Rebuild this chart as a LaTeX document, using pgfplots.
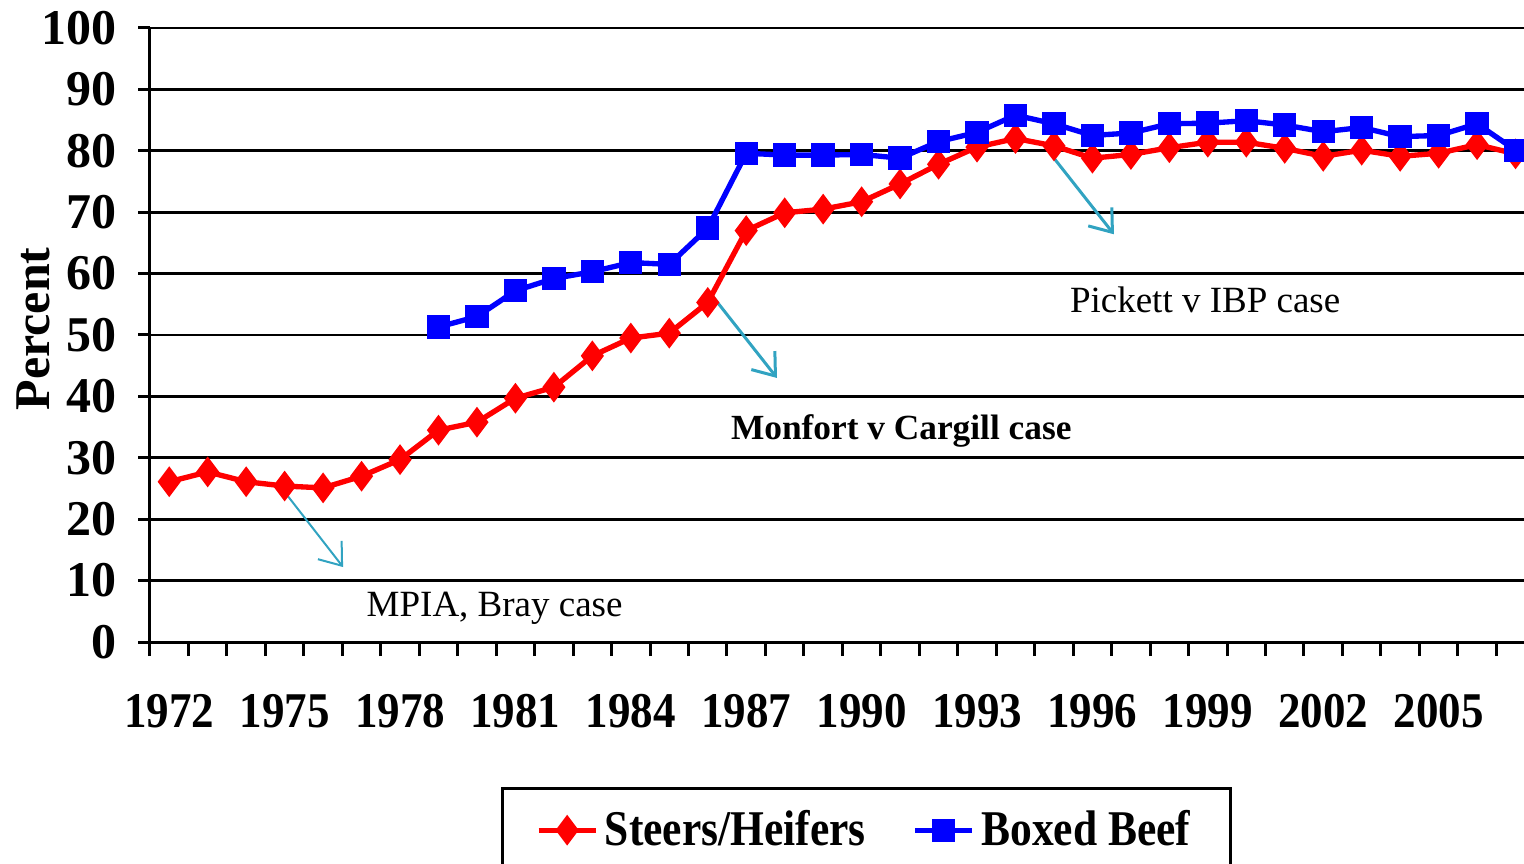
\documentclass[border=0pt]{standalone}
\usepackage{pgfplots}
\pgfplotsset{compat=1.18}
\usepackage{fontspec}
\setmainfont{Liberation Serif}
\newfontfamily\cond{Liberation Serif}[FakeStretch=0.9]
\newfontfamily\condl{Liberation Serif}[FakeStretch=0.87]
\usetikzlibrary{arrows.meta}
\definecolor{arrowcyan}{RGB}{49,163,193}

\begin{document}
\begin{tikzpicture}
\useasboundingbox (-45pt,-66.6pt) rectangle (412.2pt,192.6pt);
\begin{axis}[
    at={(0,0)}, anchor=south west,
    scale only axis, width=412.2pt, height=184.2pt,
    xmin=1971.5, xmax=2007.22, ymin=0, ymax=100,
    clip=false,
    axis x line*=bottom, axis y line*=left,
    axis line style={-, line width=0.9pt},
    xtick={1972,1975,...,2005},
    minor xtick={1971.5,1972.5,...,2007.5},
    ytick={0,10,...,100},
    tick align=outside,
    major tick length=3.6pt, minor tick length=4.2pt,
    major x tick style={draw=none},
    minor x tick style={line width=0.9pt, black},
    y tick style={line width=0.9pt, black},
    ymajorgrids, grid style={black, line width=0.8pt},
    /pgf/number format/1000 sep={},
    /pgf/number format/assume math mode=true,
    yticklabel style={font=\bfseries\fontsize{15}{18}\selectfont, xshift=-3pt},
    xticklabel style={font=\cond\bfseries\fontsize{15}{18}\selectfont, yshift=-8.5pt},
    ylabel={Percent},
    ylabel style={at={(axis description cs:-0.085,0.51)}, anchor=center, rotate=0,
        font=\bfseries\fontsize{15}{18}\selectfont},
    legend columns=2,
    legend style={at={(axis description cs:0.5215,-0.236)}, anchor=north,
        draw=black, line width=0.9pt, inner xsep=10pt, inner ysep=4.5pt,
        font=\condl\bfseries\fontsize{15}{18}\selectfont,
        /tikz/every even column/.append style={column sep=12pt}},
]
% Steers/Heifers, percent
\addplot[color=red, line width=1.6pt, mark=diamond*, mark size=3.3pt, mark options={solid}]
    coordinates {
    (1972,26.1)(1973,27.7)(1974,26.1)(1975,25.4)(1976,25.1)(1977,27.0)
    (1978,29.7)(1979,34.5)(1980,35.8)(1981,39.7)(1982,41.5)(1983,46.6)
    (1984,49.5)(1985,50.3)(1986,55.3)(1987,67.0)(1988,69.9)(1989,70.5)
    (1990,71.7)(1991,74.6)(1992,77.8)(1993,80.6)(1994,82.0)(1995,80.8)
    (1996,78.8)(1997,79.4)(1998,80.5)(1999,81.4)(2000,81.4)(2001,80.4)
    (2002,79.1)(2003,80.1)(2004,79.1)(2005,79.6)(2006,81.0)(2007,79.5)
    };
\addlegendentry{Steers/Heifers}
% Boxed Beef, percent
\addplot[color=blue, line width=1.6pt, mark=square*, mark size=2.7pt, mark options={solid}]
    coordinates {
    (1979,51.3)(1980,53.0)(1981,57.2)(1982,59.2)(1983,60.3)(1984,61.8)
    (1985,61.5)(1986,67.4)(1987,79.6)(1988,79.3)(1989,79.3)(1990,79.4)
    (1991,78.8)(1992,81.5)(1993,83.0)(1994,85.8)(1995,84.4)(1996,82.5)
    (1997,82.9)(1998,84.4)(1999,84.5)(2000,84.9)(2001,84.2)(2002,83.1)
    (2003,83.8)(2004,82.3)(2005,82.5)(2006,84.4)(2007,80.1)
    };
\addlegendentry{Boxed Beef}

\draw[arrowcyan, line width=0.6pt, -{Straight Barb[length=6pt,width=9pt]}]
    (axis cs:1974.96,24.76) -- (axis cs:1976.52,12.2);
\draw[arrowcyan, line width=0.9pt, -{Straight Barb[length=6pt,width=9pt]}]
    (axis cs:1986.14,56.2) -- (axis cs:1987.80,43.0);
\draw[arrowcyan, line width=0.9pt, -{Straight Barb[length=6pt,width=9pt]}]
    (axis cs:1994.90,79.6) -- (axis cs:1996.56,66.4);

\node[anchor=base, inner sep=0pt, font=\fontsize{11.1}{13}\selectfont]
    at (axis cs:1980.46,4.2) {MPIA, Bray case};
\node[anchor=base, inner sep=0pt, font=\bfseries\fontsize{10.6}{13}\selectfont]
    at (axis cs:1991.03,32.9) {Monfort v Cargill case};
\node[anchor=base, inner sep=0pt, font=\fontsize{11.1}{13}\selectfont]
    at (axis cs:1998.93,53.6) {Pickett v IBP case};
\end{axis}
\end{tikzpicture}
\end{document}
